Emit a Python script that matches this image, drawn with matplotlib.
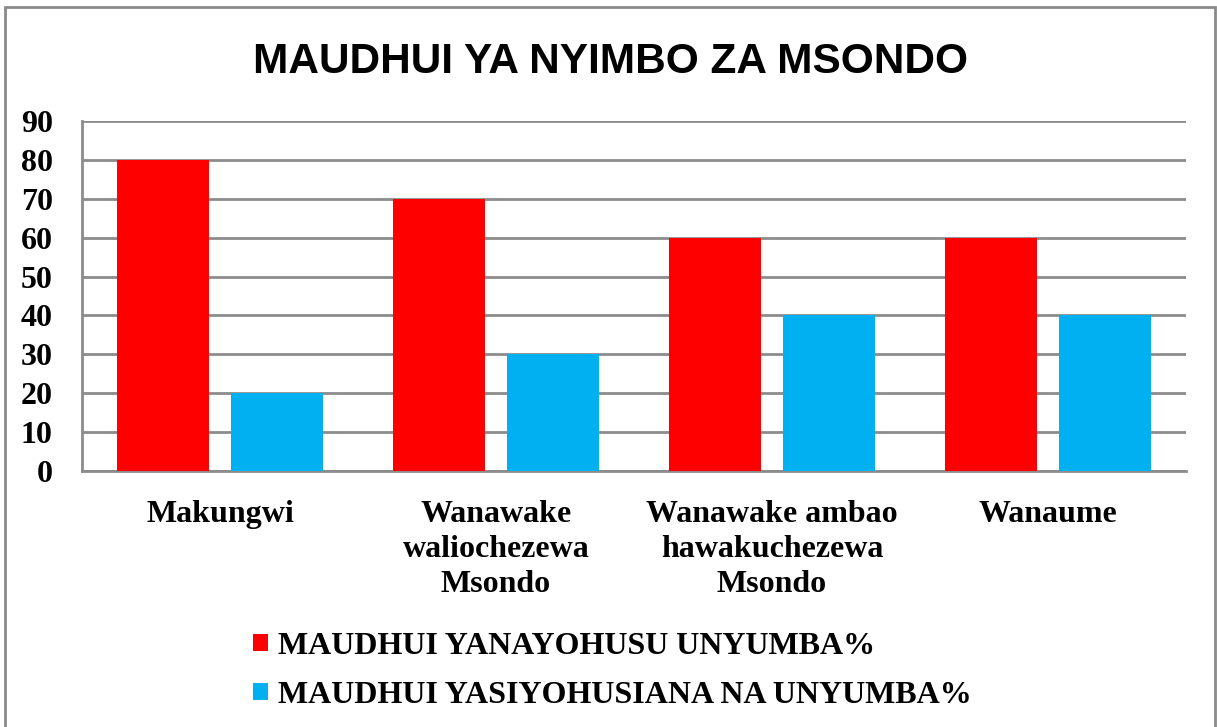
import numpy as np
import matplotlib.pyplot as plt
from matplotlib.patches import Rectangle

# data
categories = ['Makungwi', 'Wanawake\nwaliochezewa\nMsondo',
              'Wanawake ambao\nhawakuchezewa\nMsondo', 'Wanaume']
unyumba = [80, 70, 60, 60]
siyo_unyumba = [20, 30, 40, 40]
series_names = ['MAUDHUI YANAYOHUSU UNYUMBA%', 'MAUDHUI YASIYOHUSIANA NA UNYUMBA%']
title = 'MAUDHUI YA NYIMBO ZA MSONDO'

serif = 'Liberation Serif'
grid_col = '#8c8c8c'

fig = plt.figure(figsize=(12.17, 7.27), dpi=100)
# outer chart border
fig.patches.append(Rectangle((5 / 1217, -0.01), 1210 / 1217, 1 - 7 / 727 + 0.01,
                             transform=fig.transFigure, fill=False,
                             edgecolor='#8a8a8a', linewidth=2))

ax = fig.add_axes([82 / 1217, 1 - 471 / 727, 1104 / 1217, 350 / 727])

x = np.arange(len(categories))
w = 0.333
off = 0.208
b1 = ax.bar(x - off, unyumba, w, color='#FF0000', zorder=3, label=series_names[0])
b2 = ax.bar(x + off, siyo_unyumba, w, color='#00B0F0', zorder=3, label=series_names[1])

ax.set_xlim(-0.5, len(categories) - 0.5)
ax.set_ylim(0, 90)
ax.set_yticks(range(0, 91, 10))
ax.yaxis.grid(True, color=grid_col, linewidth=2, zorder=0)
ax.set_axisbelow(True)

for s in ['top', 'right']:
    ax.spines[s].set_visible(False)
for s in ['left', 'bottom']:
    ax.spines[s].set_color(grid_col)
    ax.spines[s].set_linewidth(2)

ax.tick_params(axis='both', length=0)
ax.tick_params(axis='y', pad=21)
ax.tick_params(axis='x', pad=21)
ax.set_xticks(x)
ax.set_xticklabels(categories, fontfamily=serif, fontweight='bold', fontsize=23,
                   linespacing=1.27)
for lab in ax.get_yticklabels():
    lab.set_fontfamily(serif)
    lab.set_fontweight('bold')
    lab.set_fontsize(23)

fig.text(0.502, 1 - 62 / 727, title, ha='center', va='center',
         fontfamily='Liberation Sans', fontweight='bold', fontsize=30.5)

fig.legend(handles=[b1, b2], labels=series_names, loc='upper left',
           bbox_to_anchor=(253 / 1217, 1 - 632 / 727), frameon=False,
           prop={'family': serif, 'weight': 'bold', 'size': 23},
           handlelength=0.47, handleheight=0.47, handletextpad=0.3,
           labelspacing=0.62, borderaxespad=0, borderpad=0)

fig.savefig('out.png', dpi=100)
